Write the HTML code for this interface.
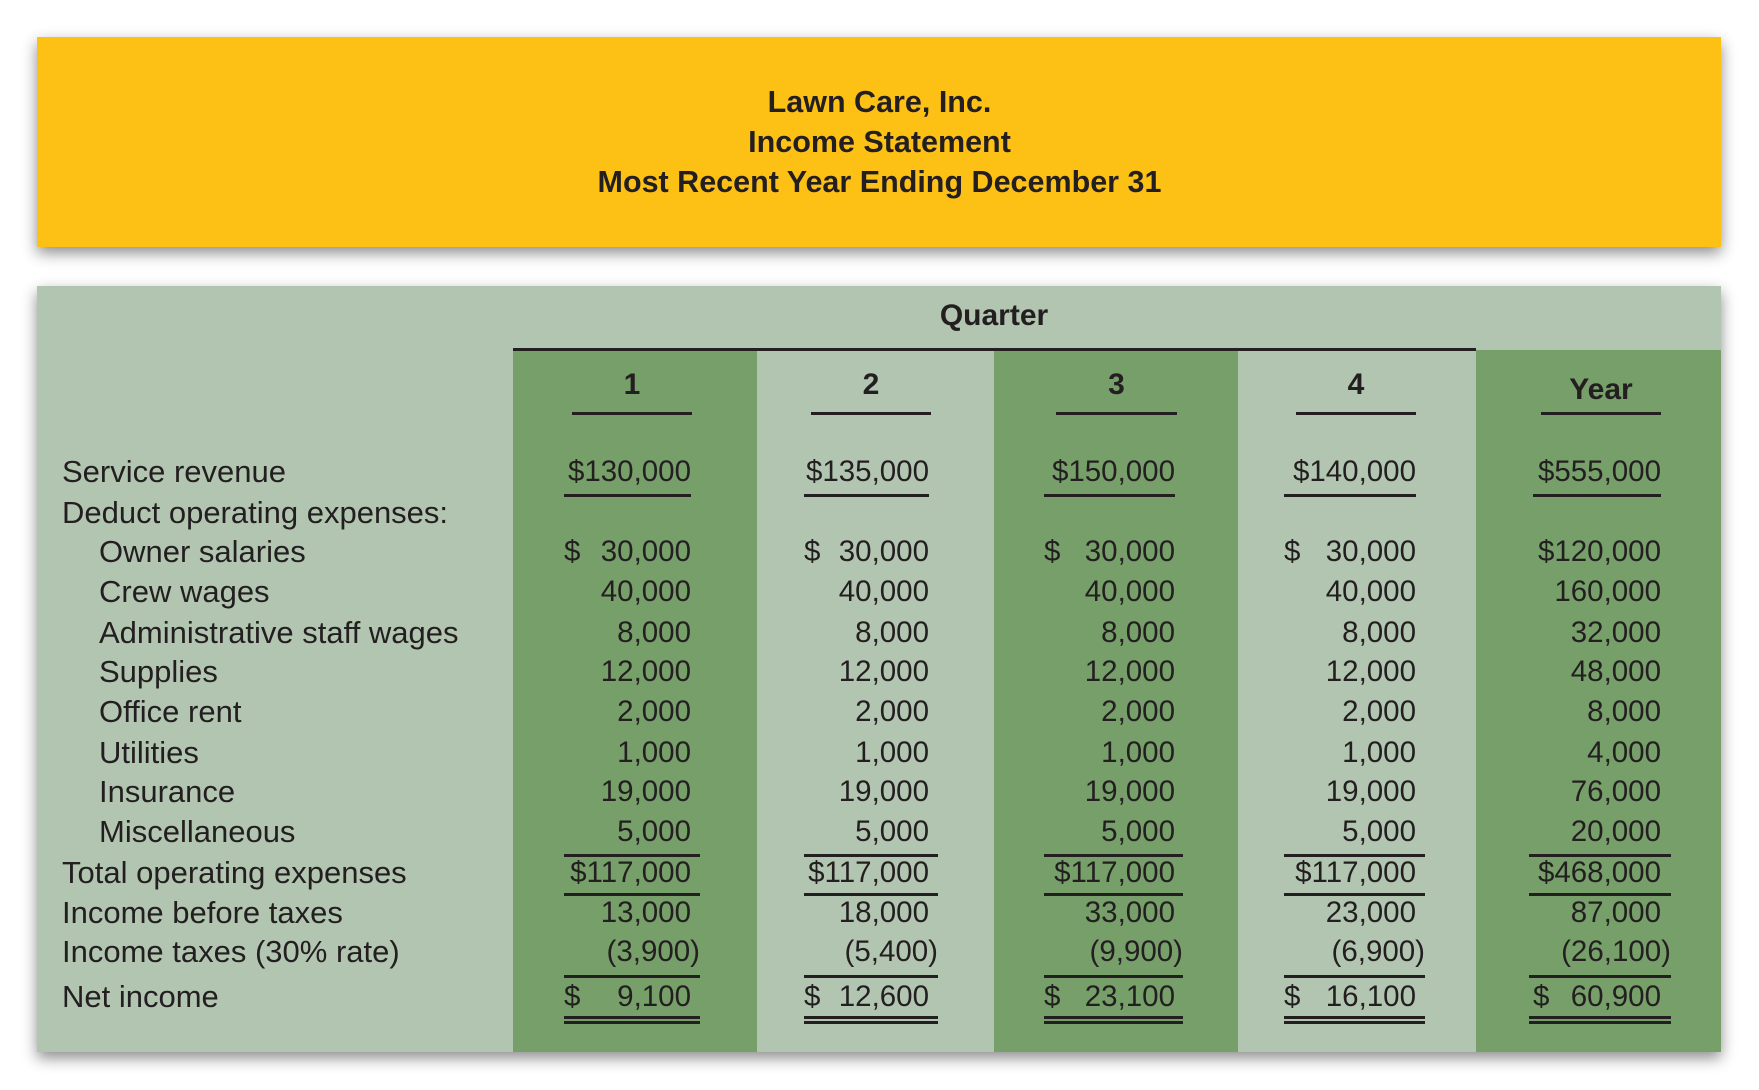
<!DOCTYPE html>
<html><head><meta charset="utf-8"><style>
body{margin:0;width:1759px;height:1090px;background:#fff;position:relative;overflow:hidden;font-family:"Liberation Sans",sans-serif;color:#231f20}
.box{position:absolute;box-shadow:0 6px 14px rgba(0,0,0,.45)}
.a{position:absolute;white-space:nowrap;font-size:29.5px;line-height:32px}
.lb{font-size:31px}
.r{text-align:right}
.ln{position:absolute;height:2.5px;background:#231f20}
.b{font-weight:bold}
</style></head><body>
<div class="box" style="left:37px;top:37px;width:1684px;height:210px;background:#fdc015"></div>
<div class="a b" style="left:0;width:1759px;text-align:center;top:82px;line-height:40px;font-size:30.5px">Lawn Care, Inc.<br>Income Statement<br>Most Recent Year Ending December 31</div>
<div class="box" style="left:37px;top:286px;width:1684px;height:766px;background:#b2c5b1"></div>
<div style="position:absolute;left:513px;top:350px;width:244px;height:702px;background:#769f69"></div>
<div style="position:absolute;left:994px;top:350px;width:244px;height:702px;background:#769f69"></div>
<div style="position:absolute;left:1476px;top:350px;width:245px;height:702px;background:#769f69"></div>
<div class="ln" style="left:513px;top:348px;width:963px"></div>
<div class="a b" style="left:894px;width:200px;text-align:center;top:300px;font-size:30px">Quarter</div>
<div class="a b" style="left:572px;width:120px;text-align:center;top:369px;font-size:30px">1</div>
<div class="a b" style="left:811px;width:120px;text-align:center;top:369px;font-size:30px">2</div>
<div class="a b" style="left:1056px;width:121px;text-align:center;top:369px;font-size:30px">3</div>
<div class="a b" style="left:1296px;width:120px;text-align:center;top:369px;font-size:30px">4</div>
<div class="a b" style="left:1541px;width:120px;text-align:center;top:374px;font-size:30px">Year</div>
<div class="ln" style="left:572px;top:412px;width:120px"></div>
<div class="ln" style="left:811px;top:412px;width:120px"></div>
<div class="ln" style="left:1056px;top:412px;width:121px"></div>
<div class="ln" style="left:1296px;top:412px;width:120px"></div>
<div class="ln" style="left:1541px;top:412px;width:120px"></div>

<div class="a lb" style="left:62px;top:456px">Service revenue</div>
<div class="a lb" style="left:62px;top:497px">Deduct operating expenses:</div>
<div class="a lb" style="left:99px;top:536px">Owner salaries</div>
<div class="a lb" style="left:99px;top:576px">Crew wages</div>
<div class="a lb" style="left:99px;top:617px">Administrative staff wages</div>
<div class="a lb" style="left:99px;top:656px">Supplies</div>
<div class="a lb" style="left:99px;top:696px">Office rent</div>
<div class="a lb" style="left:99px;top:737px">Utilities</div>
<div class="a lb" style="left:99px;top:776px">Insurance</div>
<div class="a lb" style="left:99px;top:816px">Miscellaneous</div>
<div class="a lb" style="left:62px;top:857px">Total operating expenses</div>
<div class="a lb" style="left:62px;top:897px">Income before taxes</div>
<div class="a lb" style="left:62px;top:936px">Income taxes (30% rate)</div>
<div class="a lb" style="left:62px;top:981px">Net income</div>

<div id="cols"></div>
<script>
var cols=[
 {r:691,d:564,p:700,e:[564,700],rev:"$130,000",v:["30,000","40,000","8,000","12,000","2,000","1,000","19,000","5,000"],tot:"$117,000",ib:"13,000",tx:"(3,900)",ni:"9,100"},
 {r:929,d:804,p:938,e:[804,938],rev:"$135,000",v:["30,000","40,000","8,000","12,000","2,000","1,000","19,000","5,000"],tot:"$117,000",ib:"18,000",tx:"(5,400)",ni:"12,600"},
 {r:1175,d:1044,p:1183,e:[1044,1183],rev:"$150,000",v:["30,000","40,000","8,000","12,000","2,000","1,000","19,000","5,000"],tot:"$117,000",ib:"33,000",tx:"(9,900)",ni:"23,100"},
 {r:1416,d:1284,p:1425,e:[1284,1425],rev:"$140,000",v:["30,000","40,000","8,000","12,000","2,000","1,000","19,000","5,000"],tot:"$117,000",ib:"23,000",tx:"(6,900)",ni:"16,100"},
 {r:1661,d:1533,p:1671,e:[1529,1671],rev:"$555,000",v:["$120,000","160,000","32,000","48,000","8,000","4,000","76,000","20,000"],tot:"$468,000",ib:"87,000",tx:"(26,100)",ni:"60,900",y:1}
];
var tops=[536,576,617,656,696,737,776,816];
var h="";
function t(x,top,s){h+='<div class="a r" style="left:'+(x-300)+'px;width:300px;top:'+top+'px">'+s+'</div>';}
function l(x1,x2,top){h+='<div class="ln" style="left:'+x1+'px;width:'+(x2-x1)+'px;top:'+top+'px"></div>';}
cols.forEach(function(c){
 t(c.r,456,c.rev); l(c.d,c.r,494);
 c.v.forEach(function(v,i){
  if(i==0&&!c.y){t(c.r,tops[i],v);h+='<div class="a" style="left:'+c.d+'px;top:'+tops[i]+'px">$</div>';}
  else t(c.r,tops[i],v);
 });
 l(c.e[0],c.e[1],854); t(c.r,857,c.tot); l(c.e[0],c.e[1],893);
 t(c.r,897,c.ib); t(c.p,936,c.tx); l(c.e[0],c.e[1],975);
 h+='<div class="a" style="left:'+c.d+'px;top:981px">$</div>'; t(c.r,981,c.ni);
 l(c.e[0],c.e[1],1016); l(c.e[0],c.e[1],1021);
});
document.getElementById("cols").innerHTML=h;
</script>
</body></html>
